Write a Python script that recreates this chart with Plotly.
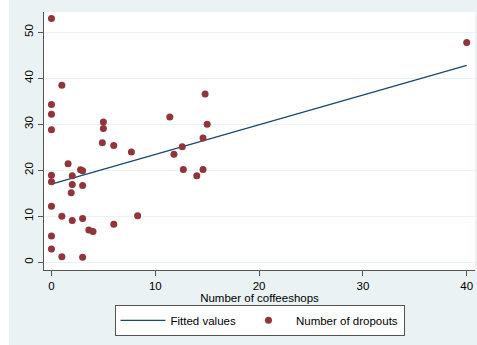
import plotly.graph_objects as go

# Coffeeshops per area and dropouts
coffeeshops = [0, 1, 0, 0, 0, 5, 5, 4.9, 6, 11.4, 14.8, 15, 14.6, 12.6, 7.7, 11.8,
               1.6, 0, 2, 2.8, 3, 12.7, 14.6, 14, 0, 2, 3, 1.9, 0, 1, 8.3, 2, 3,
               3.6, 4, 6, 0, 0, 1, 3, 40]
dropouts = [53, 38.5, 34.3, 32.2, 28.8, 30.5, 29.1, 26.0, 25.4, 31.6, 36.6, 30.0,
            27.0, 25.1, 24.0, 23.5, 21.4, 18.9, 18.8, 20.1, 19.9, 20.2, 20.2, 18.8,
            17.5, 16.9, 16.7, 15.1, 12.2, 10.0, 10.1, 9.1, 9.5, 7.0, 6.7, 8.3, 5.7,
            2.9, 1.2, 1.1, 47.8]

# Linear fit endpoints
fit_x = [0, 40]
fit_y = [17.0, 42.8]

x_ticks = [0, 10, 20, 30, 40]
y_ticks = [0, 10, 20, 30, 40, 50]

W, H = 477, 345
ML, MR, MT, MB = 44, 2, 12, 75
PW, PH = W - ML - MR, H - MT - MB

GRAPH_BG = "#EAF2F3"
FONT = "Liberation Sans, Arial, sans-serif"

fig = go.Figure()
fig.add_trace(go.Scatter(
    x=fit_x, y=fit_y, mode="lines", name="Fitted values",
    line=dict(color="#1A476F", width=1.3),
))
fig.add_trace(go.Scatter(
    x=coffeeshops, y=dropouts, mode="markers", name="Number of dropouts",
    marker=dict(color="#90353B", size=7, line=dict(width=0)),
))

# white strip at the far left of the page
fig.add_shape(type="rect", xref="paper", yref="paper",
              x0=-ML / PW, x1=(9 - ML) / PW,
              y0=-MB / PH - 0.05, y1=1 + MT / PH + 0.05,
              fillcolor="white", line=dict(width=0), layer="below")

fig.update_layout(
    width=W, height=H,
    margin=dict(l=ML, r=MR, t=MT, b=MB),
    paper_bgcolor=GRAPH_BG,
    plot_bgcolor="white",
    font=dict(family=FONT, size=11.5, color="black"),
    showlegend=True,
    legend=dict(
        orientation="h", x=0.5, xanchor="center", y=-0.135, yanchor="top",
        bgcolor="white", bordercolor="#555555", borderwidth=1,
        font=dict(size=11.5, color="black"),
        itemwidth=45,
    ),
    xaxis=dict(
        range=[-0.72, 40.8], tickvals=x_ticks, ticks="outside", ticklen=5,
        tickcolor="#555555", showgrid=False, zeroline=False,
        showline=True, linecolor="#555555", linewidth=1,
        title=dict(text="Number of coffeeshops", standoff=1,
                   font=dict(size=11.5)),
        tickfont=dict(size=11.5),
    ),
    yaxis=dict(
        range=[-1.67, 54.41], tickvals=y_ticks, ticks="outside", ticklen=5,
        tickcolor="#555555", showgrid=True, gridcolor=GRAPH_BG, gridwidth=1,
        zeroline=False, showline=True, linecolor="#555555", linewidth=1,
        tickangle=-90, tickfont=dict(size=11.5),
    ),
)

fig.write_html("out.html")
